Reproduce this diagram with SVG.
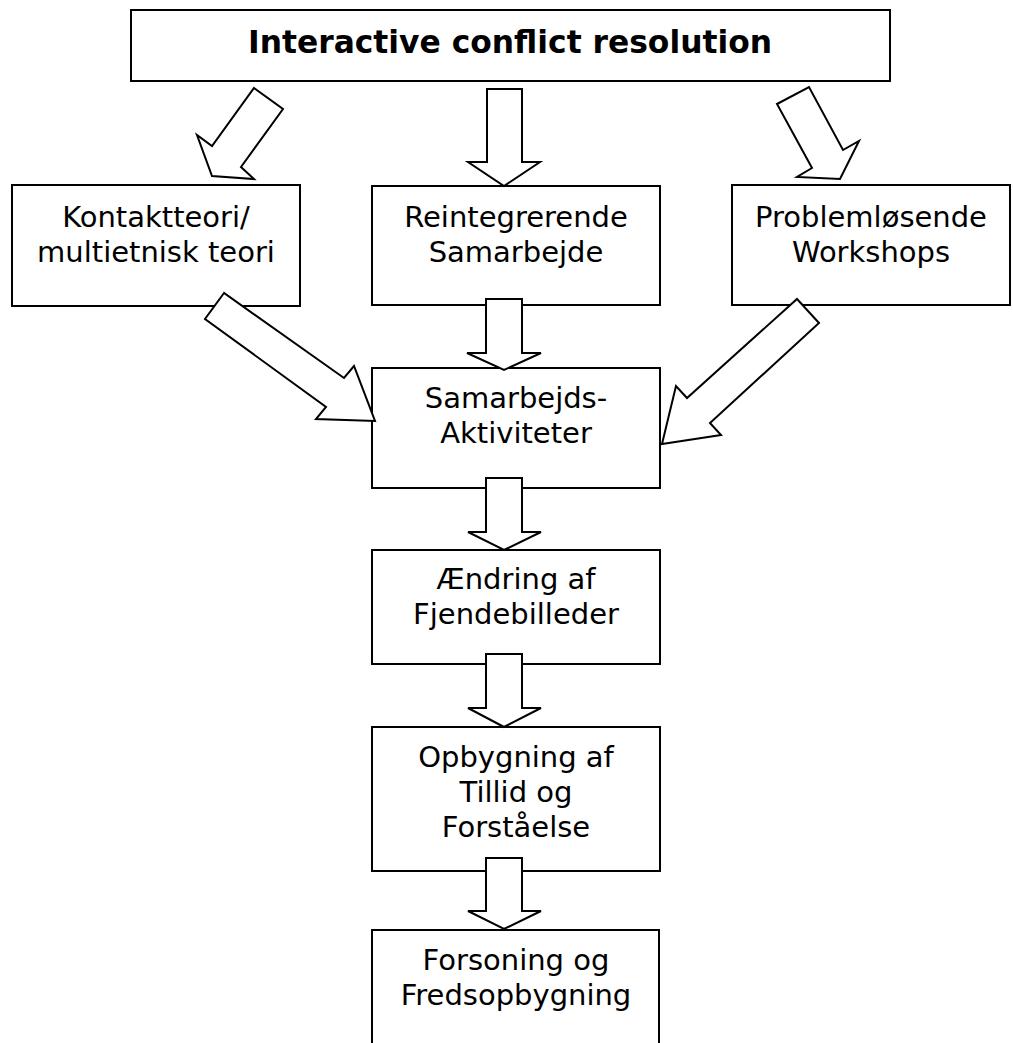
<svg xmlns="http://www.w3.org/2000/svg" width="1013" height="1043" viewBox="0 0 1013 1043">
<style>
.box{fill:#fff;stroke:#000;stroke-width:2}
.arr{fill:#fff;stroke:#000;stroke-width:2;stroke-linejoin:miter}
.t{font-family:"DejaVu Sans","Liberation Sans",sans-serif;font-size:29px;text-anchor:middle;fill:#000}
.title{font-family:"DejaVu Sans","Liberation Sans",sans-serif;font-size:32px;font-weight:bold;text-anchor:middle;fill:#000}
</style>
<rect width="1013" height="1043" fill="#fff"/>
<g id="n-title"><rect class="box" x="131" y="10" width="759" height="71"/><text class="title" x="510" y="53" textLength="524" lengthAdjust="spacingAndGlyphs">Interactive conflict resolution</text></g>
<g id="n-kontakt"><rect class="box" x="12" y="185" width="288" height="121"/><text class="t" x="156" y="227">Kontaktteori/</text><text class="t" x="156" y="262">multietnisk teori</text></g>
<g id="n-reint"><rect class="box" x="372" y="186" width="288" height="119"/><text class="t" x="516" y="227">Reintegrerende</text><text class="t" x="516" y="262">Samarbejde</text></g>
<g id="n-problem"><rect class="box" x="732" y="185" width="278" height="120"/><text class="t" x="871" y="227">Problemløsende</text><text class="t" x="871" y="262">Workshops</text></g>
<g id="n-samarb"><rect class="box" x="372" y="368" width="288" height="120"/><text class="t" x="516" y="408">Samarbejds-</text><text class="t" x="516" y="443">Aktiviteter</text></g>
<g id="n-aendring"><rect class="box" x="372" y="550" width="288" height="114"/><text class="t" x="516" y="589">Ændring af</text><text class="t" x="516" y="624">Fjendebilleder</text></g>
<g id="n-opbyg"><rect class="box" x="372" y="727" width="288" height="144"/><text class="t" x="516" y="767">Opbygning af</text><text class="t" x="516" y="802">Tillid og</text><text class="t" x="516" y="837">Forståelse</text></g>
<g id="n-forsoning"><rect class="box" x="372" y="930" width="287" height="130"/><text class="t" x="516" y="970">Forsoning og</text><text class="t" x="516" y="1005">Fredsopbygning</text></g>
<g id="connectors">
<polygon class="arr" points="254,88 283,109 241,167 254,179 212,176 197,135 212,146"/>
<polygon class="arr" points="487,89 522,89 522,162 540,162 504,186 468,162 487,162"/>
<polygon class="arr" points="777,104 809,87 843,150 859,141 840,179 797,177 812,168"/>
<polygon class="arr" points="224,293 205,319 326,407 316,419 375,421 354,366 344,378"/>
<polygon class="arr" points="486,299 522,299 522,353 541,353 504,370 467,353 486,353"/>
<polygon class="arr" points="797,299 819,323 710,423 721,435 662,444 676,386 687,398"/>
<polygon class="arr" points="486,478 522,478 522,532 541,532 504,550 468,532 486,532"/>
<polygon class="arr" points="486,654 522,654 522,708 541,708 504,727 468,708 486,708"/>
<polygon class="arr" points="486,858 522,858 522,911 541,911 504,929 468,911 486,911"/>
</g>
</svg>
